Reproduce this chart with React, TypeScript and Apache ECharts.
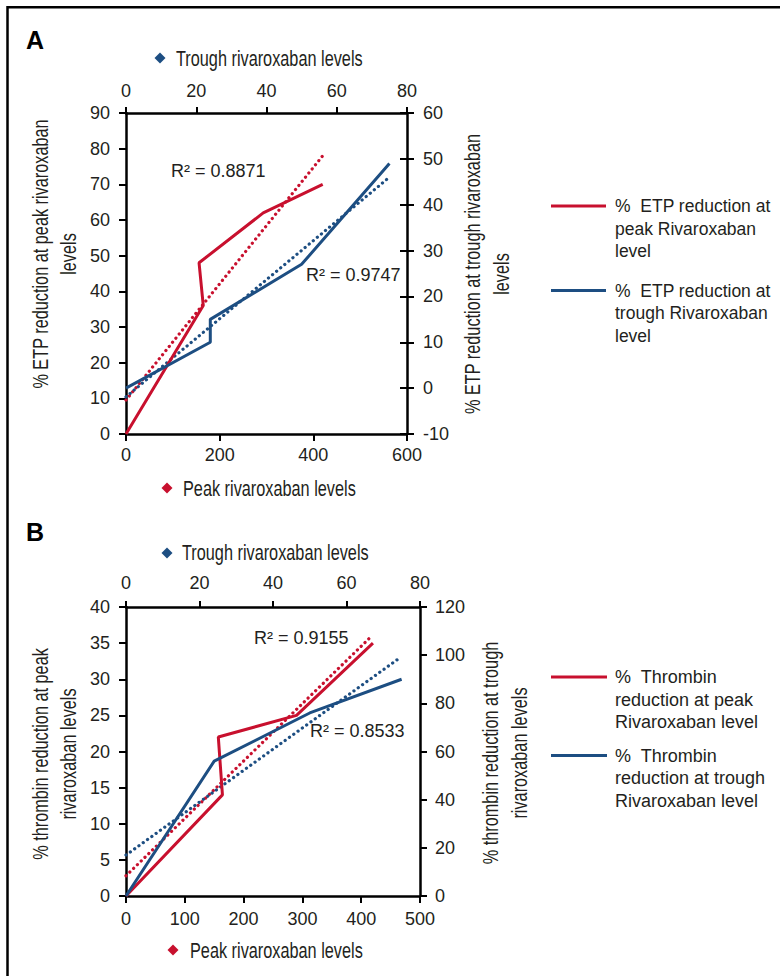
import React, { useEffect, useRef } from "react";
import * as echarts from "echarts";

// ---------- Data ----------
// Panel A: % ETP reduction
const peakEtpX = [0, 165, 156, 293, 420];
const peakEtpY = [0, 36, 48, 62, 70];
const troughEtpX = [0, 24, 24, 50, 75];
const troughEtpY = [0, 10, 15, 27, 49];
const peakEtpTrendX = [0, 420];
const peakEtpTrendY = [9.5, 78];
const troughEtpTrendX = [0, 75];
const troughEtpTrendY = [-1.9, 46];

// Panel B: % thrombin reduction
const peakThrX = [0, 164, 157, 290, 420];
const peakThrY = [0, 14, 22, 25, 35];
const troughThrX = [0, 24, 50, 75];
const troughThrY = [0, 56, 76, 90];
const peakThrTrendX = [0, 418];
const peakThrTrendY = [2.8, 36];
const troughThrTrendX = [0, 74.6];
const troughThrTrendY = [17, 99];

const r2Labels = ["R² = 0.8871", "R² = 0.9747", "R² = 0.9155", "R² = 0.8533"];

const RED = "#C8102E";
const BLUE = "#1D4E82";
const INK = "#231F20";
const FONT = "'Liberation Sans', Arial, Helvetica, sans-serif";

const zip = (xs: number[], ys: number[]) => xs.map((x, i) => [x, ys[i]]);

function axis(extra: any, labelMargin: number, tickInside = false) {
  return {
    type: "value",
    splitLine: { show: false },
    axisLine: { show: true, onZero: false, lineStyle: { color: "#000", width: 2.5 } },
    axisTick: { show: true, inside: tickInside, length: 7, lineStyle: { color: "#000", width: 2 } },
    axisLabel: { color: INK, fontSize: 18, fontFamily: FONT, margin: labelMargin },
    ...extra,
  };
}

function diamond(cx: number, cy: number, color: string) {
  const r = 5.5;
  return {
    type: "polygon",
    shape: { points: [[cx, cy - r], [cx + r, cy], [cx, cy + r], [cx - r, cy]] },
    style: { fill: color },
  };
}

function condText(text: string, x: number, y: number, opts: any = {}) {
  return {
    type: "text",
    x,
    y,
    scaleX: 0.74,
    rotation: opts.rotation || 0,
    style: {
      text,
      fill: INK,
      fontSize: 22,
      fontFamily: FONT,
      align: opts.align || "left",
      verticalAlign: "middle",
      lineHeight: opts.lineHeight || 28,
    },
  };
}

function plainText(text: string, x: number, y: number, size = 18, lineHeight = 22.5, extra: any = {}) {
  return {
    type: "text",
    x,
    y,
    style: {
      text,
      fill: INK,
      fontSize: size,
      fontFamily: FONT,
      align: "left",
      verticalAlign: "middle",
      lineHeight,
      ...extra,
    },
  };
}

function legendLine(x1: number, x2: number, y: number, color: string) {
  return {
    type: "line",
    shape: { x1, y1: y, x2, y2: y },
    style: { stroke: color, lineWidth: 3 },
  };
}

export default function App() {
  const ref = useRef<HTMLDivElement>(null);

  useEffect(() => {
    if (!ref.current) return;
    const chart = echarts.init(ref.current, undefined, { renderer: "svg" });

    const solid = (name: string, data: number[][], color: string, xi: number, yi: number) => ({
      name,
      type: "line",
      xAxisIndex: xi,
      yAxisIndex: yi,
      data,
      symbol: "none",
      lineStyle: { color, width: 3 },
      itemStyle: { color },
      z: 3,
    });
    const dotted = (name: string, data: number[][], color: string, xi: number, yi: number) => ({
      name,
      type: "line",
      xAxisIndex: xi,
      yAxisIndex: yi,
      data,
      symbol: "none",
      lineStyle: { color, width: 3.2, type: [0.1, 5.2], cap: "round" },
      itemStyle: { color },
      z: 2,
    });

    const option: any = {
      animation: false,
      backgroundColor: "#fff",
      grid: [
        { left: 126, top: 113, width: 281, height: 321 },
        { left: 126, top: 607, width: 294, height: 289 },
      ],
      xAxis: [
        axis({ gridIndex: 0, position: "bottom", min: 0, max: 600, interval: 200 }, 12),
        axis({ gridIndex: 0, position: "top", min: 0, max: 80, interval: 20, axisTick: { show: true, length: 6, lineStyle: { color: "#000", width: 2 } } }, 13),
        axis({ gridIndex: 1, position: "bottom", min: 0, max: 500, interval: 100 }, 14),
        axis({ gridIndex: 1, position: "top", min: 0, max: 80, interval: 20, axisTick: { show: true, length: 6, lineStyle: { color: "#000", width: 2 } } }, 15),
      ],
      yAxis: [
        axis({ gridIndex: 0, position: "left", min: 0, max: 90, interval: 10 }, 16),
        axis({ gridIndex: 0, position: "right", min: -10, max: 60, interval: 10 }, 16),
        axis({ gridIndex: 1, position: "left", min: 0, max: 40, interval: 5 }, 16),
        axis({ gridIndex: 1, position: "right", min: 0, max: 120, interval: 20 }, 15),
        // inner half of the crossing ticks on panel A's right axis
        axis({ gridIndex: 0, position: "right", min: -10, max: 60, interval: 10, axisLine: { show: false, onZero: false }, axisLabel: { show: false } }, 16, true),
      ],
      series: [
        dotted("Linear (% ETP reduction at peak Rivaroxaban level)", zip(peakEtpTrendX, peakEtpTrendY), RED, 0, 0),
        dotted("Linear (% ETP reduction at trough Rivaroxaban level)", zip(troughEtpTrendX, troughEtpTrendY), BLUE, 1, 1),
        solid("% ETP reduction at peak Rivaroxaban level", zip(peakEtpX, peakEtpY), RED, 0, 0),
        solid("% ETP reduction at trough Rivaroxaban level", zip(troughEtpX, troughEtpY), BLUE, 1, 1),
        dotted("Linear (% Thrombin reduction at peak Rivaroxaban level)", zip(peakThrTrendX, peakThrTrendY), RED, 2, 2),
        dotted("Linear (% Thrombin reduction at trough Rivaroxaban level)", zip(troughThrTrendX, troughThrTrendY), BLUE, 3, 3),
        solid("% Thrombin reduction at peak Rivaroxaban level", zip(peakThrX, peakThrY), RED, 2, 2),
        solid("% Thrombin reduction at trough Rivaroxaban level", zip(troughThrX, troughThrY), BLUE, 3, 3),
      ],
      graphic: [
        // outer frame
        {
          type: "rect",
          shape: { x: 7.5, y: 7.2, width: 900, height: 1100 },
          style: { fill: "none", stroke: "#000", lineWidth: 2.5 },
          silent: true,
        },
        // panel letters
        { type: "text", x: 26, y: 40, style: { text: "A", fill: "#000", fontSize: 25, fontWeight: "bold", fontFamily: FONT, align: "left", verticalAlign: "middle" } },
        { type: "text", x: 26, y: 532, style: { text: "B", fill: "#000", fontSize: 25, fontWeight: "bold", fontFamily: FONT, align: "left", verticalAlign: "middle" } },

        // panel A axis titles
        diamond(160, 58, BLUE),
        condText("Trough rivaroxaban levels", 176, 58),
        diamond(167, 488, RED),
        condText("Peak rivaroxaban levels", 183, 488),
        condText("% ETP reduction at peak rivaroxaban\nlevels", 54, 254, { align: "center", rotation: Math.PI / 2, lineHeight: 28 }),
        condText("% ETP reduction at trough rivaroxaban\nlevels", 487, 274, { align: "center", rotation: Math.PI / 2, lineHeight: 29 }),

        // panel B axis titles
        diamond(167, 553, BLUE),
        condText("Trough rivaroxaban levels", 182, 552),
        diamond(173, 950, RED),
        condText("Peak rivaroxaban levels", 190, 950),
        condText("% thrombin reduction at peak\nrivaroxaban levels", 54, 754, { align: "center", rotation: Math.PI / 2, lineHeight: 28 }),
        condText("% thrombin reduction at trough\nrivaroxaban levels", 505, 753, { align: "center", rotation: Math.PI / 2, lineHeight: 29 }),

        // R² labels
        plainText(r2Labels[0], 171, 171, 18),
        plainText(r2Labels[1], 306, 275, 18),
        plainText(r2Labels[2], 254, 638, 18),
        plainText(r2Labels[3], 310, 731, 18),

        // legends
        legendLine(551, 606, 206, RED),
        plainText("%  ETP reduction at\npeak Rivaroxaban\nlevel", 615, 206 + 22.5, 17.5, 22.5),
        legendLine(551, 606, 290.5, BLUE),
        plainText("%  ETP reduction at\ntrough Rivaroxaban\nlevel", 615, 290.5 + 22.5, 17.5, 22.5),
        legendLine(551, 607, 677, RED),
        plainText("%  Thrombin\nreduction at peak\nRivaroxaban level", 615, 677 + 22.5, 18, 22.5),
        legendLine(551, 607, 755.5, BLUE),
        plainText("%  Thrombin\nreduction at trough\nRivaroxaban level", 615, 755.5 + 22.5, 18, 22.5),
      ],
    };

    chart.setOption(option);
    return () => chart.dispose();
  }, []);

  return (
    <div
      ref={ref}
      style={{ position: "fixed", left: 0, top: 0, width: 780, height: 976, background: "#fff" }}
    />
  );
}
